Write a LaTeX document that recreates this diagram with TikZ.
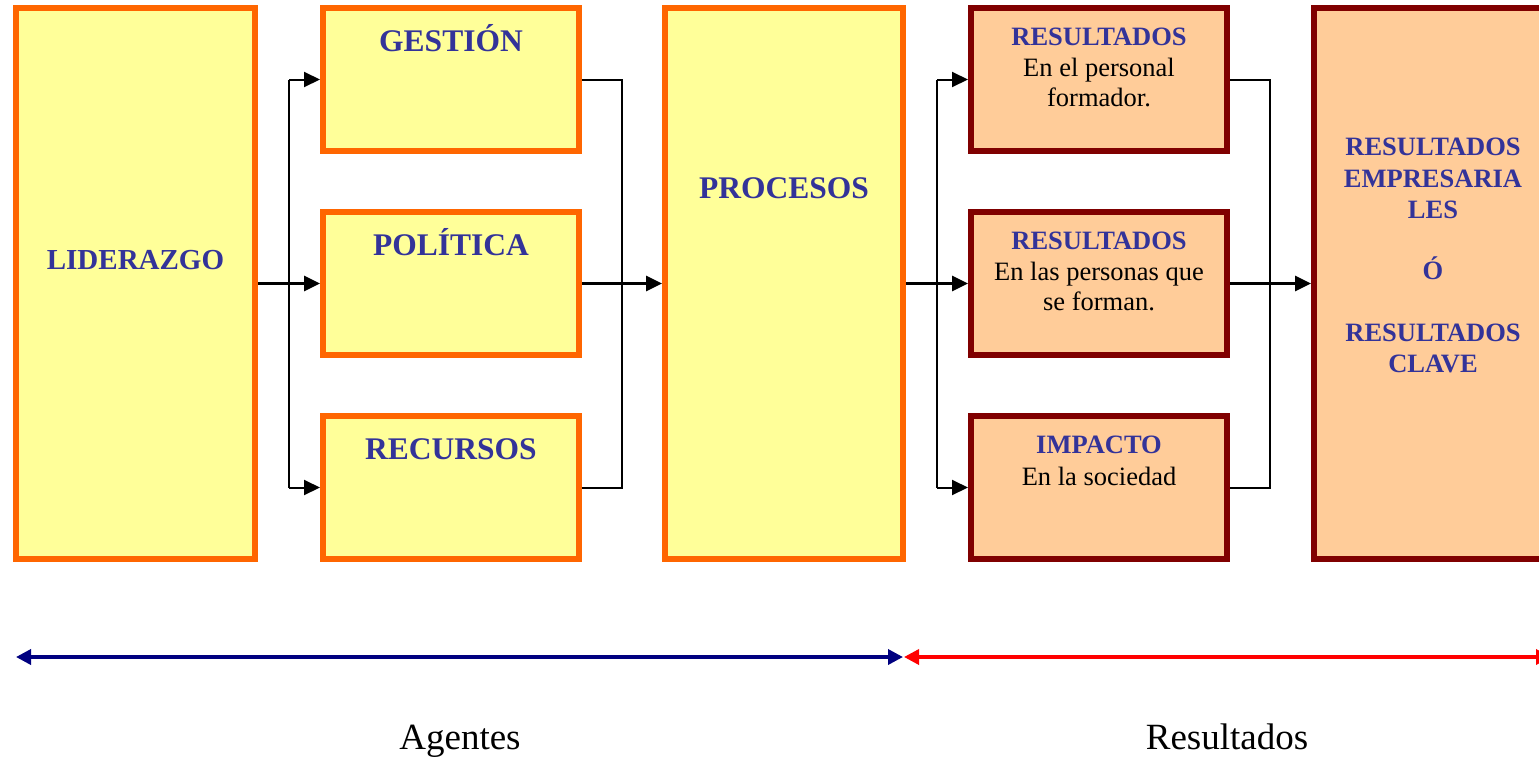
\documentclass[tikz,border=0pt]{standalone}
\usepackage{fontspec}
\setmainfont{Liberation Serif}
\usetikzlibrary{arrows.meta}
\definecolor{orangeb}{RGB}{255,102,0}
\definecolor{yellowf}{RGB}{255,255,153}
\definecolor{maroonb}{RGB}{128,0,0}
\definecolor{peachf}{RGB}{255,204,153}
\definecolor{txtblue}{RGB}{51,51,153}
\definecolor{navyl}{RGB}{0,0,128}
\begin{document}
\begin{tikzpicture}[x=1pt,y=-1pt,
  ybox/.style={draw=orangeb, fill=yellowf, line width=6pt, inner sep=0pt, rectangle},
  pbox/.style={draw=maroonb, fill=peachf, line width=6pt, inner sep=0pt, rectangle},
  hdr/.style={anchor=base, text=txtblue, inner sep=0pt, font=\bfseries\fontsize{31.5}{36}\selectfont},
  rhdr/.style={anchor=base, text=txtblue, inner sep=0pt, font=\bfseries\fontsize{26.5}{30}\selectfont},
  subt/.style={anchor=base, inner sep=0pt, font=\fontsize{26.5}{30}\selectfont},
  foot/.style={anchor=base, inner sep=0pt, font=\fontsize{37}{42}\selectfont},
  conn/.style={line width=2pt},
  arr/.style={line width=2pt, -{Triangle[length=16pt,width=15pt]}},
  mainarr/.style={line width=3pt, -{Triangle[length=16pt,width=15pt]}},
  spanarr/.style={line width=3.5pt, {Triangle[length=15pt,width=15pt]}-{Triangle[length=15pt,width=15pt]}}
]
\clip (0,0) rectangle (1539,758);
\fill[white] (0,0) rectangle (1539,758);

% boxes
\node[ybox, minimum width=239pt, minimum height=551pt] (lid) at (135.5,283.5) {};
\node[ybox, minimum width=256pt, minimum height=143pt] (ges) at (451,79.5) {};
\node[ybox, minimum width=256pt, minimum height=143pt] (pol) at (451,283.5) {};
\node[ybox, minimum width=256pt, minimum height=143pt] (rec) at (451,487.5) {};
\node[ybox, minimum width=238pt, minimum height=551pt] (proc) at (784,283.5) {};
\node[pbox, minimum width=256pt, minimum height=143pt] (r1) at (1099,79.5) {};
\node[pbox, minimum width=256pt, minimum height=143pt] (r2) at (1099,283.5) {};
\node[pbox, minimum width=256pt, minimum height=143pt] (r3) at (1099,487.5) {};
\node[pbox, minimum width=238pt, minimum height=551pt] (fin) at (1433,283.5) {};

% texts
\node[hdr, font=\bfseries\fontsize{29}{34}\selectfont] (tlid) at (135.5,269) {LIDERAZGO};
\node[hdr] (tges) at (451,51) {GESTIÓN};
\node[hdr] (tpol) at (451,255) {POLÍTICA};
\node[hdr] (trec) at (451,459) {RECURSOS};
\node[hdr] (tproc) at (784,198) {PROCESOS};

\node[rhdr] (tr1a) at (1099,45) {RESULTADOS};
\node[subt] (tr1b) at (1099,76) {En el personal};
\node[subt] (tr1c) at (1099,106) {formador.};
\node[rhdr] (tr2a) at (1099,249) {RESULTADOS};
\node[subt] (tr2b) at (1099,280) {En las personas que};
\node[subt] (tr2c) at (1099,310) {se forman.};
\node[rhdr] (tr3a) at (1099,453) {IMPACTO};
\node[subt] (tr3b) at (1099,485) {En la sociedad};

\node[rhdr] (tfa) at (1433,155) {RESULTADOS};
\node[rhdr] (tfb) at (1433,187) {EMPRESARIA};
\node[rhdr] (tfc) at (1433,218) {LES};
\node[rhdr] (tfd) at (1433,279) {Ó};
\node[rhdr] (tfe) at (1433,341) {RESULTADOS};
\node[rhdr] (tff) at (1433,372) {CLAVE};

% bus coordinates
\coordinate (b1) at (289,0);
\coordinate (b2) at (622,0);
\coordinate (b3) at (937,0);
\coordinate (b4) at (1270,0);

% leadership -> agents
\draw[conn] (b1 |- ges.west) -- (b1 |- rec.west);
\draw[arr] (b1 |- ges.west) -- (ges.west);
\draw[arr] (b1 |- rec.west) -- (rec.west);
\draw[mainarr] (lid.east) -- (pol.west);

% agents -> processes
\draw[conn] (ges.east) -- (b2 |- ges.east) -- (b2 |- rec.east) -- (rec.east);
\draw[mainarr] (pol.east) -- (proc.west);

% processes -> results
\draw[conn] (b3 |- r1.west) -- (b3 |- r3.west);
\draw[arr] (b3 |- r1.west) -- (r1.west);
\draw[arr] (b3 |- r3.west) -- (r3.west);
\draw[mainarr] (proc.east) -- (r2.west);

% results -> final
\draw[conn] (r1.east) -- (b4 |- r1.east) -- (b4 |- r3.east) -- (r3.east);
\draw[mainarr] (r2.east) -- (fin.west);

% span arrows
\coordinate (al) at (16,657);
\coordinate (am) at (903,657);
\coordinate (am2) at (904,657);
\coordinate (ar) at (1551,657);
\draw[spanarr, navyl] (al) -- (am);
\draw[spanarr, red] (am2) -- (ar);

\node[foot] (ag) at (460,749) {Agentes};
\node[foot] (rs) at (1227,749) {Resultados};
\end{tikzpicture}
\end{document}
